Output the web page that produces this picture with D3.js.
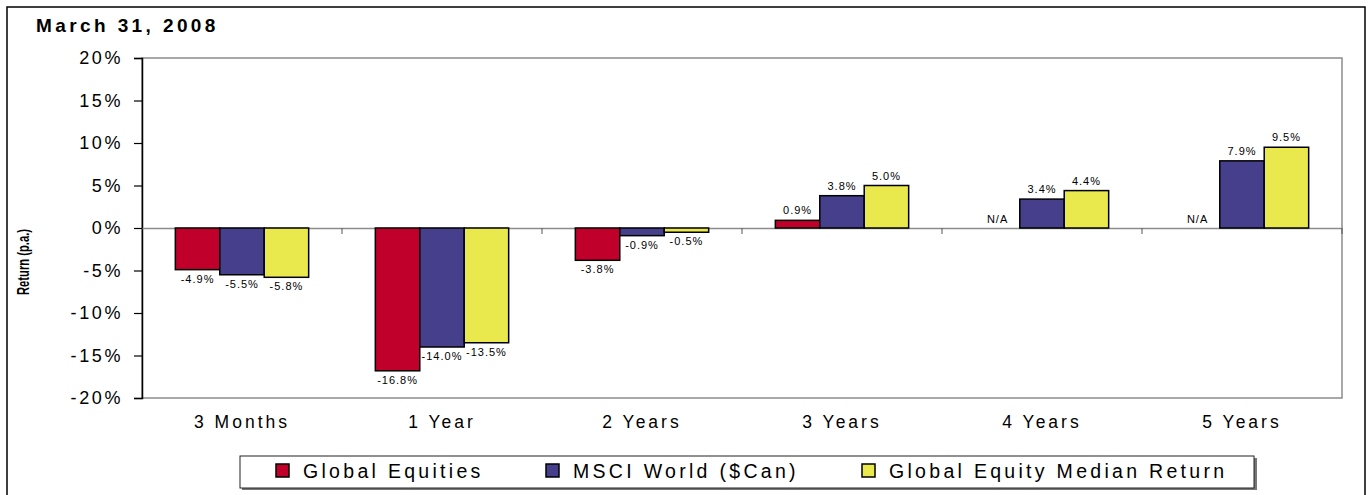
<!DOCTYPE html>
<html>
<head>
<meta charset="utf-8">
<script src="https://cdn.jsdelivr.net/npm/d3@7"></script>
<style>
  html, body { margin: 0; padding: 0; background: #fff; }
  svg { display: block; font-family: Arial, "Liberation Sans", sans-serif; }
</style>
</head>
<body>
<svg id="chart" width="1368" height="495"></svg>
<script>
const categories = ["3 Months", "1 Year", "2 Years", "3 Years", "4 Years", "5 Years"];
const seriesNames = ["Global Equities", "MSCI World ($Can)", "Global Equity Median Return"];
const globalEquities = [-4.9, -16.8, -3.8, 0.9, null, null];
const msciWorld = [-5.5, -14.0, -0.9, 3.8, 3.4, 7.9];
const medianReturn = [-5.8, -13.5, -0.5, 5.0, 4.4, 9.5];
const yTicks = [20, 15, 10, 5, 0, -5, -10, -15, -20];
const colors = ["#C0002A", "#463F8C", "#E9E84C"];
const title = "March 31, 2008";
const yTitle = "Return (p.a.)";

const series = [globalEquities, msciWorld, medianReturn];
const svg = d3.select("#chart");

// outer frame
svg.append("rect").attr("x", 7).attr("y", 7).attr("width", 1358).attr("height", 500)
  .attr("fill", "#fff").attr("stroke", "#000").attr("stroke-width", 1.5);

const plot = { left: 142, right: 1342, top: 58, bottom: 398 };

const x0 = d3.scaleBand().domain(categories).range([plot.left, plot.right]).paddingInner(0).paddingOuter(0);
const x1 = d3.scaleBand().domain(d3.range(3)).range([0, x0.bandwidth()]).paddingInner(0).paddingOuter(0.75);
const y = d3.scaleLinear().domain([-20, 20]).range([plot.bottom, plot.top]);

// title
svg.append("text").attr("x", 36).attr("y", 32).text(title)
  .attr("font-size", 19).attr("font-weight", "bold").attr("letter-spacing", 3.4).attr("fill", "#000");

// plot area border
svg.append("rect").attr("x", plot.left).attr("y", plot.top)
  .attr("width", plot.right - plot.left).attr("height", plot.bottom - plot.top)
  .attr("fill", "#fff").attr("stroke", "#8c8c8c").attr("stroke-width", 1.5);

// y axis
const yAxis = d3.axisLeft(y).tickValues(yTicks).tickSize(8).tickPadding(11).tickFormat(d => d + "%");
const ya = svg.append("g").attr("transform", `translate(${plot.left},0)`).call(yAxis);
ya.select(".domain").attr("stroke", "#000").attr("stroke-width", 1.5);
ya.selectAll(".tick line").attr("stroke", "#000").attr("stroke-width", 1.2);
ya.selectAll(".tick text").attr("font-size", 18).attr("letter-spacing", 2.6).attr("fill", "#000")
  .attr("font-family", "Arial, 'Liberation Sans', sans-serif");

// y axis title (condensed)
svg.append("text").attr("transform", `translate(29,262) rotate(-90) scale(0.66,1)`).attr("text-anchor", "middle")
  .text(yTitle).attr("font-size", 17).attr("font-weight", "bold").attr("fill", "#000");

// zero line with category ticks
const xAxis = d3.axisBottom(x0).tickSize(0).tickFormat("");
const xa = svg.append("g").attr("transform", `translate(0,${y(0)})`).call(xAxis);
xa.select(".domain").attr("stroke", "#8c8c8c").attr("stroke-width", 1.5);
const bounds = categories.map((c, i) => x0(c)).slice(1).concat([plot.right]);
svg.append("g").selectAll("line").data(bounds).join("line")
  .attr("x1", d => d).attr("x2", d => d).attr("y1", y(0)).attr("y2", y(0) + 6)
  .attr("stroke", "#555").attr("stroke-width", 1);

// bars
const groups = svg.append("g").selectAll("g").data(categories).join("g")
  .attr("transform", c => `translate(${x0(c)},0)`);
groups.each(function(c, ci) {
  const g = d3.select(this);
  series.forEach((s, si) => {
    const v = s[ci];
    const bx = x1(si), bw = x1.bandwidth();
    if (v === null) {
      g.append("text").attr("x", bx + bw / 2).attr("y", y(0) - 5).attr("text-anchor", "middle")
        .text("N/A").attr("font-size", 11).attr("letter-spacing", 1).attr("fill", "#000");
      return;
    }
    g.append("rect").attr("x", bx).attr("width", bw)
      .attr("y", y(Math.max(0, v))).attr("height", Math.abs(y(v) - y(0)))
      .attr("fill", colors[si]).attr("stroke", "#000").attr("stroke-width", 1.5);
    g.append("text").attr("x", bx + bw / 2)
      .attr("y", v >= 0 ? y(v) - 6 : y(v) + 13)
      .attr("text-anchor", "middle").text(v.toFixed(1) + "%")
      .attr("font-size", 11).attr("letter-spacing", 1).attr("fill", "#000");
  });
});

// category labels
svg.append("g").selectAll("text").data(categories).join("text")
  .attr("x", c => x0(c) + x0.bandwidth() / 2).attr("y", 428).attr("text-anchor", "middle")
  .text(c => c).attr("font-size", 17.5).attr("letter-spacing", 3).attr("fill", "#000");

// legend
const lg = svg.append("g");
lg.append("rect").attr("x", 242).attr("y", 458).attr("width", 1015).attr("height", 32).attr("fill", "#777");
lg.append("rect").attr("x", 240).attr("y", 456).attr("width", 1014).attr("height", 32)
  .attr("fill", "#fff").attr("stroke", "#222").attr("stroke-width", 1);
const legendX = [276, 546, 862];
seriesNames.forEach((n, i) => {
  lg.append("rect").attr("x", legendX[i]).attr("y", 464).attr("width", 13).attr("height", 13)
    .attr("fill", colors[i]).attr("stroke", "#000").attr("stroke-width", 1.5);
  lg.append("text").attr("x", legendX[i] + 27).attr("y", 478).text(n)
    .attr("font-size", 19.5).attr("letter-spacing", 3.3).attr("fill", "#000");
});
</script>
</body>
</html>
